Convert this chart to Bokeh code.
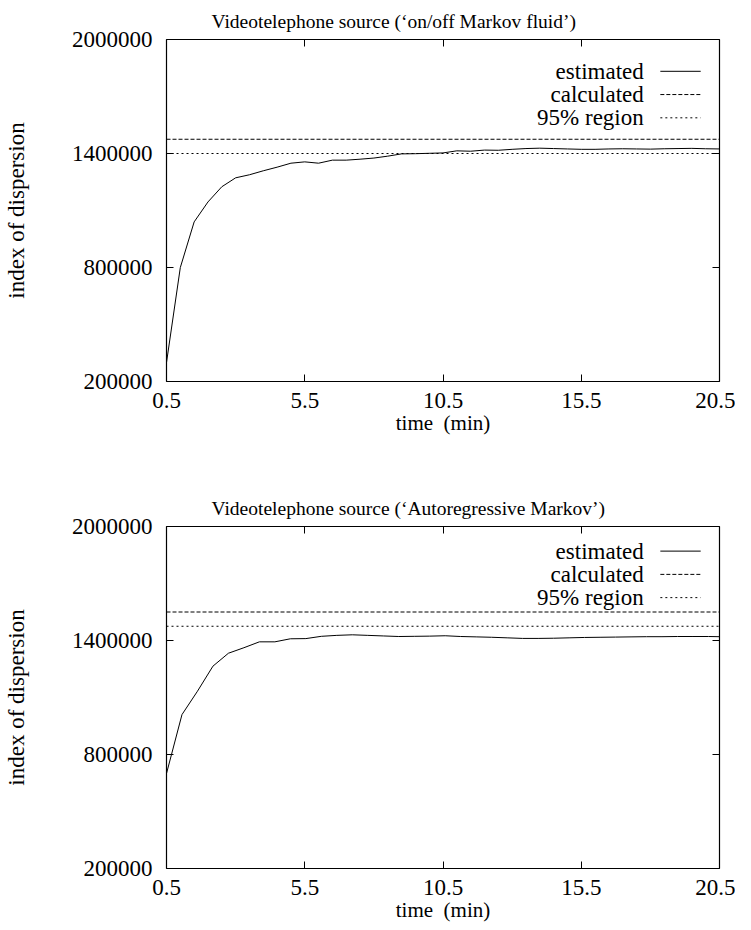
from bokeh.plotting import figure
from bokeh.layouts import column
from bokeh.models import (Range1d, LinearAxis, FixedTicker, Span, Label,
                          CustomJSTickFormatter, Title)
from bokeh.embed import file_html
from bokeh.resources import INLINE

FONT = "Liberation Serif"
FS_TICK = "23px"
FS_LEG = "23px"
FS_TITLE = "19.5px"
FS_YLAB = "23px"
FS_XLAB = "21px"

x_ticks = [0.5, 5.5, 10.5, 15.5, 20.5]
x_tick_labels = ["0.5", "5.5", "10.5", "15.5", "20.5"]
y_ticks = [200000, 800000, 1400000, 2000000]
y_tick_labels = ["200000", "800000", "1400000", "2000000"]
x_label = "time\u00a0\u00a0(min)"
y_label = "index of dispersion"
legend_labels = ["estimated", "calculated", "95% region"]

top_title = "Videotelephone source (\u2018on/off Markov fluid\u2019)"
top_time = [0.5, 1.0, 1.5, 2.0, 2.5, 3.0, 3.5, 4.0, 4.5, 5.0, 5.5, 6.0, 6.5, 7.0,
            7.5, 8.0, 8.5, 9.0, 9.5, 10.0, 10.5, 11.0, 11.5, 12.0, 12.5, 13.0,
            13.5, 14.0, 14.5, 15.0, 15.5, 16.0, 16.5, 17.0, 17.5, 18.0, 18.5,
            19.0, 19.5, 20.0, 20.5]
top_estimated = [300000, 800000, 1040000, 1145000, 1225000, 1272000, 1288000,
                 1309000, 1328000, 1349000, 1356000, 1349000, 1365000, 1365000,
                 1370000, 1376000, 1386000, 1398000, 1399000, 1401000, 1403000,
                 1414000, 1412000, 1418000, 1417000, 1422000, 1426000, 1428000,
                 1426000, 1424000, 1422000, 1422000, 1424000, 1425000, 1424000,
                 1423000, 1425000, 1426000, 1427000, 1425000, 1424000]
top_calculated = 1475000
top_region95 = 1400000

bottom_title = "Videotelephone source (\u2018Autoregressive Markov\u2019)"
bottom_time = [0.50, 1.06, 1.62, 2.18, 2.74, 3.30, 3.86, 4.42, 4.98, 5.54, 6.10,
               6.66, 7.22, 7.78, 8.34, 8.90, 9.46, 10.02, 10.58, 11.14, 11.70,
               12.26, 12.82, 13.38, 13.94, 14.50, 15.06, 15.62, 16.18, 16.74,
               17.30, 17.86, 18.42, 18.98, 19.54, 20.10, 20.50]
bottom_estimated = [700000, 1010000, 1133000, 1265000, 1333000, 1362000, 1393000,
                    1393000, 1409000, 1410000, 1422000, 1427000, 1430000, 1427000,
                    1424000, 1421000, 1422000, 1423000, 1425000, 1421000, 1419000,
                    1417000, 1414000, 1411000, 1411000, 1412000, 1414000, 1416000,
                    1417000, 1418000, 1419000, 1420000, 1420000, 1421000, 1421000,
                    1421000, 1420000]
bottom_calculated = 1550000
bottom_region95 = 1475000

DASH_CALC = "4 2"
DASH_REG = "2 3"


def style_axis(ax, ticks):
    ax.ticker = FixedTicker(ticks=ticks)
    ax.major_tick_in = 7
    ax.major_tick_out = 0
    ax.minor_tick_in = 0
    ax.minor_tick_out = 0
    ax.axis_line_color = "black"
    ax.axis_line_width = 1.2
    ax.major_tick_line_color = "black"
    ax.major_label_text_font = FONT
    ax.major_label_text_font_size = FS_TICK
    ax.major_label_text_color = "black"
    ax.axis_label_text_font = FONT
    ax.axis_label_text_font_style = "normal"
    ax.axis_label_text_color = "black"


def mirror_axis(ticks):
    ax = LinearAxis()
    style_axis(ax, ticks)
    ax.formatter = CustomJSTickFormatter(code="return ''")
    ax.major_label_text_font_size = "1px"
    ax.major_label_standoff = 0
    return ax


def make_panel(title, t, est, calc, reg, height, b_top, b_bottom, leg_top):
    x0, x1 = x_ticks[0], x_ticks[-1]
    y0, y1 = y_ticks[0], y_ticks[-1]
    p = figure(width=735, height=height, x_range=Range1d(x0, x1),
               y_range=Range1d(y0, y1), output_backend="svg",
               toolbar_location=None, x_axis_location=None,
               y_axis_location=None, min_border_left=157,
               min_border_right=16, min_border_top=b_top,
               min_border_bottom=b_bottom)
    p.grid.visible = False
    p.outline_line_color = None
    p.background_fill_color = "white"
    p.border_fill_color = "white"

    xb = LinearAxis(axis_label=x_label)
    style_axis(xb, x_ticks)
    xb.major_label_overrides = dict(zip(x_ticks, x_tick_labels))
    xb.major_label_standoff = 11
    xb.axis_label_standoff = 0
    xb.axis_label_text_font_size = FS_XLAB
    p.add_layout(xb, "below")

    yl = LinearAxis(axis_label=y_label)
    style_axis(yl, y_ticks)
    yl.major_label_overrides = dict(zip(y_ticks, y_tick_labels))
    yl.major_label_standoff = 14
    yl.axis_label_standoff = 40
    yl.axis_label_text_font_size = FS_YLAB
    p.add_layout(yl, "left")

    p.add_layout(mirror_axis(x_ticks), "above")
    p.add_layout(mirror_axis(y_ticks), "right")

    p.add_layout(Title(text=title, align="left", offset=45, standoff=15,
                       text_font=FONT, text_font_size=FS_TITLE,
                       text_font_style="normal", text_color="black"), "above")

    p.add_layout(Span(location=calc, dimension="width", line_color="black",
                      line_width=1, line_dash=DASH_CALC))
    p.add_layout(Span(location=reg, dimension="width", line_color="black",
                      line_width=1, line_dash=DASH_REG))
    p.line(t, est, line_color="black", line_width=1)

    # legend: label text to the left of its line sample
    xs = x1 - x0
    ys = y1 - y0
    tx = x0 + 0.863 * xs
    lx0 = x0 + 0.893 * xs
    lx1 = x0 + 0.966 * xs
    dashes = ["solid", DASH_CALC, DASH_REG]
    for i, lab in enumerate(legend_labels):
        yy = y1 - (leg_top + i * 0.068) * ys
        p.add_layout(Label(x=tx, y=yy, text=lab, text_align="right",
                           text_baseline="middle", text_font=FONT,
                           text_font_size=FS_LEG, text_color="black"))
        p.segment(x0=[lx0], y0=[yy], x1=[lx1], y1=[yy], line_color="black",
                  line_width=1, line_dash=dashes[i])
    return p


p1 = make_panel(top_title, top_time, top_estimated, top_calculated,
                top_region95, 443, 39, 62, 0.093)
p2 = make_panel(bottom_title, bottom_time, bottom_estimated, bottom_calculated,
                bottom_region95, 481, 83, 56, 0.072)

layout = column(p1, p2, spacing=0)
open("out.html", "w").write(file_html(layout, INLINE))
